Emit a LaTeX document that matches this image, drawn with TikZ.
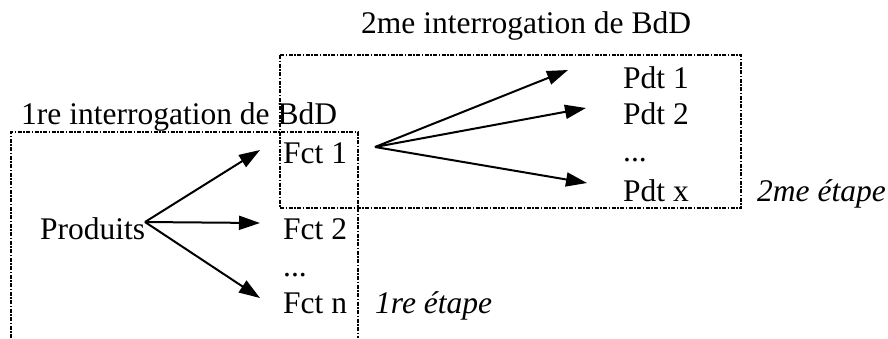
\documentclass[tikz,border=0pt]{standalone}
\usepackage{fontspec}
\setmainfont{Liberation Serif}
\usetikzlibrary{arrows.meta}
\begin{document}
\begin{tikzpicture}[x=1pt,y=-1pt,
  lbl/.style={anchor=base west,inner sep=0pt,font=\fontsize{31.5}{36}\selectfont},
  ilbl/.style={lbl,font=\fontsize{31.5}{36}\selectfont\itshape},
  arr/.style={line width=2pt,-{Triangle[length=21pt,width=14pt]}},
  frame/.style={line width=1.6pt,dash pattern=on 4pt off 1.5pt on 1.5pt off 1.5pt}]
\useasboundingbox (0,0) rectangle (888,338);
% frames
\draw[frame] (11,338) -- (11,132) -- (358,132) -- (358,338);
\draw[frame] (280,55) rectangle (741,208);
% labels
\node[lbl] (t2) at (361,33) {2me interrogation de BdD};
\node[lbl] (t1) at (21,124) {1re interrogation de BdD};
\node[lbl] (prod) at (40,239) {Produits};
\node[lbl] (f1) at (283,163) {Fct 1};
\node[lbl] (f2) at (283,239) {Fct 2};
\node[lbl] (fd) at (283,276) {...};
\node[lbl] (fn) at (283,313) {Fct n};
\node[ilbl] (e1) at (375,313) {1re étape};
\node[lbl] (p1) at (623,88) {Pdt 1};
\node[lbl] (p2) at (623,124) {Pdt 2};
\node[lbl] (pd) at (623,161) {...};
\node[lbl] (px) at (623,201) {Pdt x};
\node[ilbl] (e2) at (757,201) {2me étape};
% arrow anchors
\coordinate (ps) at (145,222);
\coordinate (a1) at (260,150);
\coordinate (a2) at (260,223);
\coordinate (an) at (260,298);
\coordinate (fs) at (375,147);
\coordinate (b1) at (568,70);
\coordinate (b2) at (586,108);
\coordinate (bx) at (587,183);
\draw[arr] (ps) -- (a1);
\draw[arr] (ps) -- (a2);
\draw[arr] (ps) -- (an);
\draw[arr] (fs) -- (b1);
\draw[arr] (fs) -- (b2);
\draw[arr] (fs) -- (bx);
\end{tikzpicture}
\end{document}
